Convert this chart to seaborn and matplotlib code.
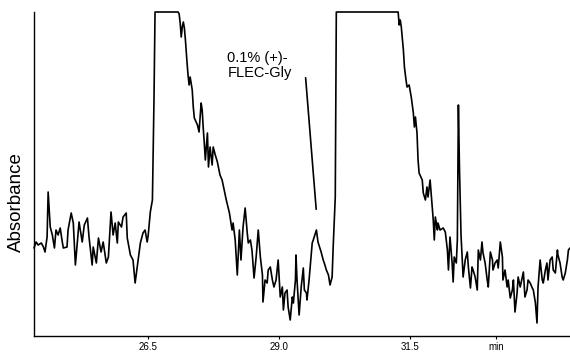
import matplotlib
matplotlib.use("Agg")
import matplotlib.pyplot as plt
import seaborn as sns
import pandas as pd

# ---- data (time in min, absorbance in arbitrary units) ----
time_min = [
    24.32, 24.36, 24.40, 24.46, 24.50, 24.53, 24.57, 24.59, 24.63, 24.67,
    24.71, 24.74, 24.78, 24.82, 24.86, 24.88, 24.95, 24.97, 25.03, 25.07,
    25.11, 25.15, 25.18, 25.24, 25.28, 25.34, 25.37, 25.43, 25.45, 25.51,
    25.55, 25.60, 25.64, 25.70, 25.74, 25.79, 25.83, 25.87, 25.91, 25.93,
    25.99, 26.02, 26.08, 26.10, 26.16, 26.21, 26.25, 26.29, 26.35, 26.40,
    26.44, 26.48, 26.50, 26.54, 26.58, 26.61, 26.63,
    27.07, 27.09, 27.11, 27.13, 27.15, 27.17, 27.19, 27.21, 27.24, 27.26,
    27.28, 27.30, 27.34, 27.36, 27.38, 27.44, 27.47, 27.51, 27.53, 27.55,
    27.57, 27.59, 27.63, 27.65, 27.68, 27.72, 27.74, 27.78, 27.82, 27.87,
    27.91, 27.99, 28.05, 28.10, 28.12, 28.16, 28.20, 28.24, 28.27, 28.31,
    28.35, 28.39, 28.41, 28.45, 28.48, 28.52, 28.56, 28.60, 28.64, 28.68,
    28.69, 28.73, 28.77, 28.79, 28.83, 28.87, 28.90, 28.94, 28.98, 29.02,
    29.06, 29.08, 29.11, 29.15, 29.17, 29.21, 29.25, 29.27, 29.31, 29.32,
    29.34, 29.38, 29.42, 29.46, 29.48, 29.52, 29.53, 29.57, 29.63, 29.65,
    29.71, 29.74, 29.80, 29.84, 29.86, 29.90, 29.94, 29.97, 30.01, 30.03,
    30.07, 30.08, 30.09,
    31.27, 31.29, 31.31, 31.33, 31.37, 31.39, 31.42, 31.44, 31.48, 31.52,
    31.56, 31.58, 31.60, 31.63, 31.65, 31.67, 31.73, 31.75, 31.79, 31.82,
    31.84, 31.88, 31.92, 31.94, 31.96, 31.98, 32.02, 32.03, 32.07, 32.13,
    32.17, 32.21, 32.23, 32.26, 32.30, 32.32, 32.34, 32.38, 32.40, 32.42,
    32.44, 32.47, 32.49, 32.51, 32.55, 32.59, 32.61, 32.65, 32.68, 32.70,
    32.74, 32.78, 32.80, 32.84, 32.87, 32.89, 32.93, 32.97, 32.99, 33.03,
    33.07, 33.08, 33.12, 33.16, 33.18, 33.22, 33.26, 33.27, 33.31, 33.35,
    33.37, 33.41, 33.45, 33.47, 33.50, 33.54, 33.56, 33.60, 33.64, 33.66,
    33.69, 33.73, 33.75, 33.79, 33.83, 33.85, 33.89, 33.92, 33.94, 33.98,
    34.02, 34.04, 34.08, 34.11, 34.13, 34.17, 34.21, 34.23, 34.27, 34.31,
    34.32, 34.36, 34.40, 34.42, 34.46, 34.50, 34.52, 34.55,
]
absorbance = [
    88, 94, 91, 93, 89, 84, 99, 144, 109, 101,
    88, 106, 101, 108, 94, 88, 89, 106, 123, 113,
    71, 96, 114, 94, 111, 118, 99, 71, 89, 73,
    98, 84, 94, 73, 79, 124, 101, 113, 93, 114,
    109, 119, 123, 98, 81, 76, 53, 69, 93, 103,
    106, 94, 101, 124, 136, 236, 324,
    324, 322, 313, 299, 309, 314, 308, 296, 274, 261,
    251, 259, 246, 229, 218, 211, 204, 233, 226, 208,
    193, 176, 203, 169, 189, 171, 189, 181, 174, 161,
    156, 136, 123, 106, 113, 96, 61, 106, 76, 109,
    128, 103, 93, 96, 86, 58, 79, 106, 79, 61,
    34, 56, 53, 66, 69, 56, 49, 56, 76, 39,
    49, 26, 43, 46, 29, 16, 39, 33, 56, 81,
    56, 21, 49, 68, 46, 43, 36, 56, 93, 96,
    106, 94, 84, 76, 73, 66, 61, 51, 59, 89,
    139, 236, 324,
    324, 311, 316, 309, 286, 269, 256, 249, 251, 239,
    223, 209, 219, 203, 176, 163, 156, 143, 136, 149,
    139, 156, 129, 116, 96, 119, 106, 113, 106, 108,
    104, 86, 66, 99, 73, 54, 79, 73, 96, 231,
    169, 101, 79, 59, 76, 84, 69, 48, 69, 66,
    59, 46, 86, 76, 94, 83, 73, 56, 49, 84,
    76, 66, 73, 76, 68, 94, 79, 56, 66, 49,
    56, 38, 46, 56, 24, 43, 59, 49, 59, 64,
    39, 46, 56, 53, 48, 46, 33, 13, 49, 76,
    56, 53, 66, 73, 56, 76, 79, 66, 63, 86,
    81, 73, 59, 56, 63, 76, 86, 88,
]
tick_values = [26.5, 29.0, 31.5, 33.14]
tick_labels = ["26.5", "29.0", "31.5", "min"]
annotation_lines = ["0.1% (+)-", "FLEC-Gly"]

df = pd.DataFrame({"time": time_min, "absorbance": absorbance})

sns.set_style("ticks")
plt.rcParams["font.family"] = ["Liberation Sans", "DejaVu Sans"]

fig = plt.figure(figsize=(5.70, 3.52), dpi=100)
ax = fig.add_axes([34 / 570, 16 / 352, 536 / 570, 324 / 352])

sns.lineplot(data=df, x="time", y="absorbance", sort=False, estimator=None,
             color="black", linewidth=1.2, ax=ax, clip_on=False)

ax.set_xlim(24.32, 34.55)
ax.set_ylim(0, 324)

# annotation pointing at the small FLEC-Gly peak
ax.text(28.01, 285, "\n".join(annotation_lines), fontsize=10.5, color="black",
        ha="left", va="top", linespacing=1.05)
ax.annotate("", xy=(29.71, 124), xytext=(29.50, 261),
            arrowprops=dict(arrowstyle="-", color="black", lw=1.2))

ax.set_xticks(tick_values)
ax.set_xticklabels(tick_labels, fontsize=7)
ax.set_yticks([])
ax.tick_params(axis="x", length=2, width=0.8, pad=2.5, colors="black")
ax.set_xlabel("")
ax.set_ylabel("Absorbance", fontsize=13.5, color="black")
ax.yaxis.set_label_coords(-0.017, 0.414)

sns.despine(ax=ax)
for side in ("left", "bottom"):
    ax.spines[side].set_color("black")
    ax.spines[side].set_linewidth(1.0)

fig.savefig("out.png", dpi=100)
